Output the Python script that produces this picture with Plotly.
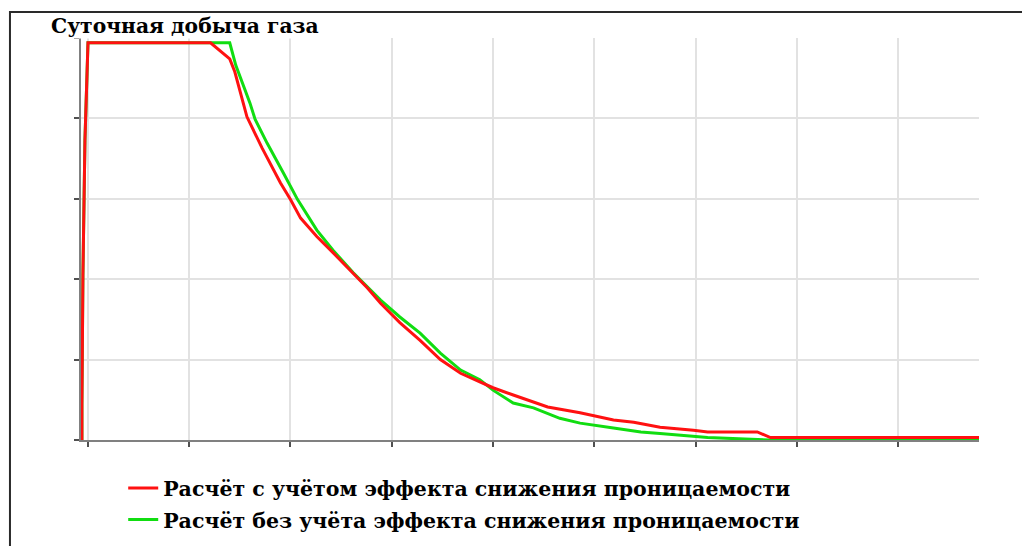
import plotly.graph_objects as go

# Time axis (arbitrary units, grid step = 1) and daily gas rate (grid step = 1)
t_red = [-0.06, -0.06, -0.05, -0.03, 0.0, 1.21, 1.40, 1.45, 1.57, 1.72, 1.90, 2.00,
         2.10, 2.26, 2.42, 2.59, 2.76, 2.89, 3.08, 3.28, 3.48, 3.68, 3.87, 4.00,
         4.20, 4.54, 4.86, 5.19, 5.39, 5.65, 5.98, 6.12, 6.61, 6.74, 8.80]
q_red = [0.0, 0.44, 2.05, 3.73, 4.94, 4.94, 4.74, 4.58, 4.02, 3.63, 3.20, 2.99,
         2.76, 2.53, 2.33, 2.11, 1.89, 1.70, 1.46, 1.24, 1.00, 0.83, 0.72, 0.65,
         0.56, 0.41, 0.34, 0.25, 0.22, 0.16, 0.12, 0.10, 0.10, 0.03, 0.03]

t_green = [-0.06, -0.06, -0.05, -0.03, 0.0, 1.40, 1.46, 1.60, 1.65, 1.77, 1.93,
           2.07, 2.26, 2.42, 2.62, 2.89, 3.08, 3.28, 3.48, 3.68, 3.87, 4.00, 4.20,
           4.40, 4.66, 4.86, 5.19, 5.46, 5.65, 5.98, 6.12, 6.74, 8.80]
q_green = [0.0, 0.44, 2.05, 3.73, 4.94, 4.94, 4.66, 4.19, 3.99, 3.69, 3.32,
           2.99, 2.61, 2.36, 2.08, 1.74, 1.53, 1.33, 1.08, 0.87, 0.75, 0.62, 0.46,
           0.40, 0.27, 0.21, 0.15, 0.10, 0.08, 0.04, 0.03, 0.0, 0.0]

name_red = "Расчёт с учётом эффекта снижения проницаемости"
name_green = "Расчёт без учёта эффекта снижения проницаемости"
title_text = "Суточная добыча газа"

x_ticks = [0, 1, 2, 3, 4, 5, 6, 7, 8]
y_ticks = [0, 1, 2, 3, 4, 5]

FONT = "DejaVu Serif"

fig = go.Figure()
fig.add_trace(go.Scatter(
    x=t_green, y=q_green, mode="lines", name=name_green,
    line=dict(color="#11dd11", width=3), legendrank=2, legendgroup="g",
))
fig.add_trace(go.Scatter(
    x=t_red, y=q_red, mode="lines", name=name_red,
    line=dict(color="#ff1111", width=3), legendrank=1, legendgroup="r",
))

axis_common = dict(
    showline=True, linecolor="#808080", linewidth=2,
    showgrid=True, gridcolor="#e2e2e2", gridwidth=2,
    ticks="outside", ticklen=5, tickwidth=2, tickcolor="#505050",
    showticklabels=False, zeroline=False, fixedrange=True,
)

fig.update_xaxes(range=[-0.069, 8.80], tickvals=x_ticks, **axis_common)
fig.update_yaxes(range=[0, 5], tickvals=y_ticks, **axis_common)

# Outer frame around the chart
fig.add_shape(type="rect", xref="paper", yref="paper",
              x0=-0.0791, x1=1.2, y0=-0.5, y1=1.0647,
              line=dict(color="#2a2a2a", width=2), layer="above")

fig.add_annotation(
    text=f"<b>{title_text}</b>", xref="paper", yref="paper",
    x=-0.0345, y=1.03, xanchor="left", yanchor="middle",
    showarrow=False, bgcolor="white", borderpad=0,
    font=dict(family=FONT, size=20.3, color="#000000"),
)

fig.update_layout(
    width=1022, height=546,
    margin=dict(l=81, r=43, t=38, b=106, autoexpand=False),
    paper_bgcolor="white", plot_bgcolor="white",
    showlegend=True,
    legend=dict(
        x=0.047, y=-0.07, xanchor="left", yanchor="top",
        bgcolor="rgba(0,0,0,0)", tracegroupgap=2,
        font=dict(family=FONT, size=20.5, color="#000000", weight="bold"),
    ),
)

fig.write_html("out.html")
